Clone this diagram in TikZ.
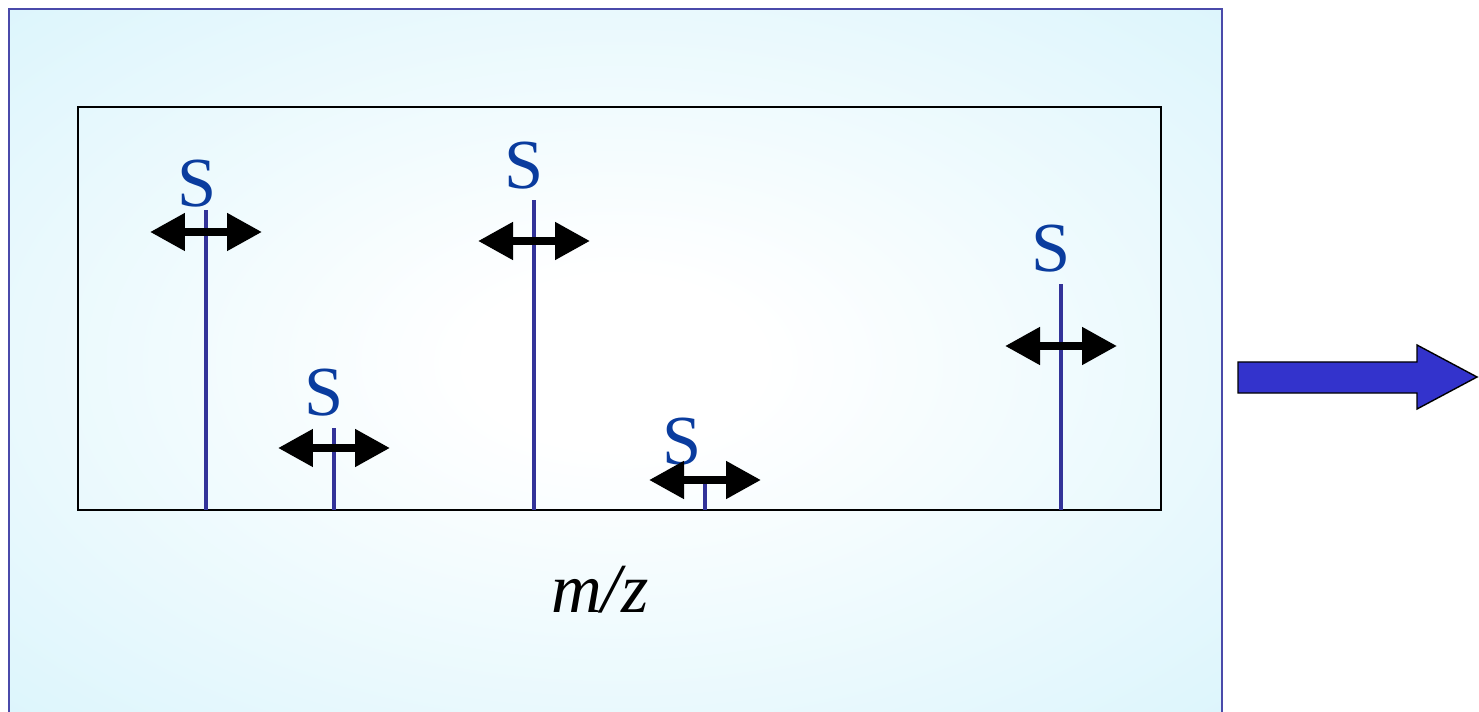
\documentclass[tikz,border=0pt]{standalone}
\usepackage{fontspec}
\setmainfont{Liberation Serif}
\usetikzlibrary{arrows.meta}
\definecolor{panelcyan}{HTML}{DCF5FC}
\definecolor{panelrim}{HTML}{4A4AAA}
\definecolor{peakblue}{HTML}{333399}
\definecolor{sblue}{HTML}{0A3C9E}
\definecolor{bigarrow}{HTML}{3333CC}
\pgfdeclareradialshading{panelglow}{\pgfpoint{0bp}{0bp}}{color(0bp)=(white); color(6bp)=(white); color(36bp)=(panelcyan); color(80bp)=(panelcyan)}

\begin{document}
\begin{tikzpicture}[x=0.02cm, y=-0.02cm,
  peak/.style={draw=peakblue, line width=2.3pt},
  slabel/.style={text=sblue, font=\fontsize{40}{40}\selectfont, inner sep=0pt},
  shiftarrow/.style={line width=4.5pt, {Triangle[length=0.7cm,width=0.72cm]}-{Triangle[length=0.7cm,width=0.72cm]}}]
  \useasboundingbox (0,0) rectangle (1479,712);

  % panel with soft glow
  \shade[shading=panelglow] (9,9) rectangle (1222,716);
  \draw[panelrim, line width=1.5pt] (9,716) -- (9,9) -- (1222,9) -- (1222,716);

  % spectrum frame
  \draw[line width=1pt] (78,107) rectangle (1161,510);

  % peaks
  \coordinate (b1) at (206,510); \coordinate (t1) at (206,210);
  \coordinate (b2) at (334,510); \coordinate (t2) at (334,428);
  \coordinate (b3) at (534,510); \coordinate (t3) at (534,200);
  \coordinate (b4) at (705,510); \coordinate (t4) at (705,483);
  \coordinate (b5) at (1061,510); \coordinate (t5) at (1061,284);
  \draw[peak] (b1) -- (t1);
  \draw[peak] (b2) -- (t2);
  \draw[peak] (b3) -- (t3);
  \draw[peak] (b4) -- (t4);
  \draw[peak] (b5) -- (t5);

  \node[slabel] (s1) at (197,184) {S};
  \node[slabel] (s2) at (324,393) {S};
  \node[slabel] (s3) at (524,166) {S};
  \node[slabel] (s4) at (682,442) {S};
  \node[slabel] (s5) at (1051,249) {S};

  % shift arrows
  \coordinate (l1) at (150,232); \coordinate (r1) at (262,232);
  \coordinate (l2) at (278,448); \coordinate (r2) at (390,448);
  \coordinate (l3) at (478,241); \coordinate (r3) at (590,241);
  \coordinate (l4) at (649,480); \coordinate (r4) at (761,480);
  \coordinate (l5) at (1005,346); \coordinate (r5) at (1117,346);
  \draw[shiftarrow] (l1) -- (r1);
  \draw[shiftarrow] (l2) -- (r2);
  \draw[shiftarrow] (l3) -- (r3);
  \draw[shiftarrow] (l4) -- (r4);
  \draw[shiftarrow] (l5) -- (r5);

  \node[font=\fontsize{40}{40}\selectfont\itshape, inner sep=0pt, anchor=base] (mz) at (600,612) {m/z};

  % output arrow
  \filldraw[fill=bigarrow, draw=black, line width=0.8pt]
    (1238,362) -- (1417,362) -- (1417,345) -- (1477,377) -- (1417,409) -- (1417,393) -- (1238,393) -- cycle;
\end{tikzpicture}
\end{document}
